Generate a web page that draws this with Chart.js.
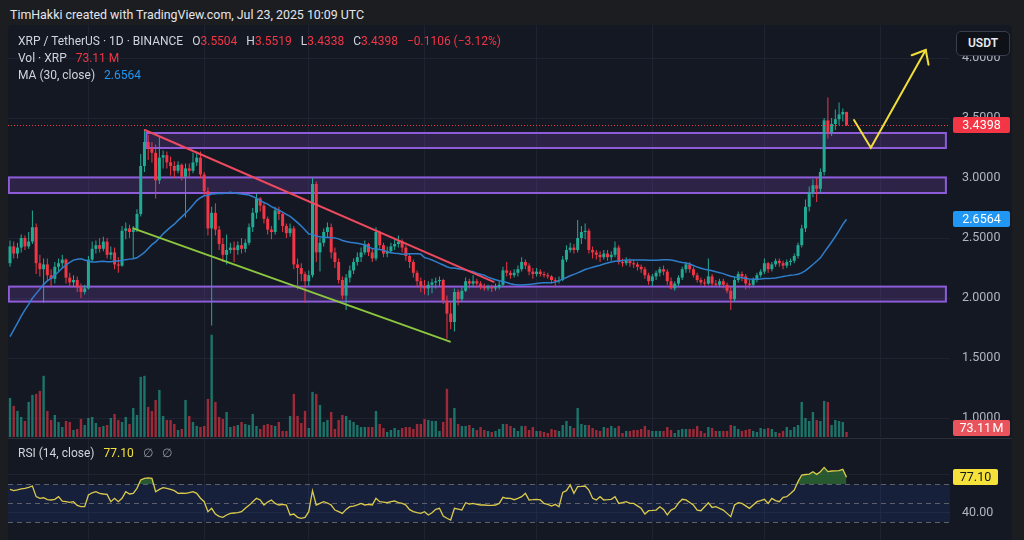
<!DOCTYPE html>
<html>
<head>
<meta charset="utf-8">
<title>XRP / TetherUS 1D</title>
<script src="https://cdn.jsdelivr.net/npm/chart.js@4.4.1/dist/chart.umd.min.js"></script>
<style>
  html, body { margin: 0; padding: 0; }
  body { width: 1024px; height: 540px; overflow: hidden; background: #1c1d21; position: relative;
         font-family: Roboto, "Liberation Sans", Arial, sans-serif; }
  .abs { position: absolute; }
  #panel { left: 8px; top: 25px; width: 1004px; height: 515px; background: #141823; border-radius: 5px 5px 0 0; }
  #hdr { left: 10px; top: 7px; font-size: 12.4px; line-height: 16px; color: #e4e6eb; }
  #mainBox { left: 8px; top: 25px; width: 1004px; height: 412px; }
  #rsiBox { left: 8px; top: 438px; width: 1004px; height: 101px; border-top: 1px solid #2a2e39; }
  .leg { left: 18px; font-size: 12px; line-height: 14px; color: #d1d4dc; white-space: nowrap; }
  .g { margin-left: 9px; }
  .red { color: #f23645; }
  .blue { color: #2196f3; }
  .yel { color: #f5e13a; }
  .mut { color: #9598a1; }
  #usdt { left: 956px; top: 31px; width: 52px; height: 23px; border: 1px solid #3a3e4a; border-radius: 5px;
          background: #0e1118; color: #e8eaef; font-size: 12px; font-weight: 600; text-align: center; line-height: 23px; }
</style>
</head>
<body>
<div id="hdr" class="abs">TimHakki created with TradingView.com, Jul 23, 2025 10:09 UTC</div>
<div id="panel" class="abs"></div>
<div id="mainBox" class="abs"><canvas id="main" width="1004" height="412"></canvas></div>
<div id="rsiBox" class="abs"><canvas id="rsi" width="1004" height="101"></canvas></div>

<div class="leg abs" style="top:34px">XRP / TetherUS · 1D · BINANCE<span class="g">O<span class="red">3.5504</span></span><span class="g">H<span class="red">3.5519</span></span><span class="g">L<span class="red">3.4338</span></span><span class="g">C<span class="red">3.4398</span></span><span class="g red">−0.1106 (−3.12%)</span></div>
<div class="leg abs" style="top:51px">Vol · XRP<span class="g red">73.11 M</span></div>
<div class="leg abs" style="top:68px">MA (30, close)<span class="g blue">2.6564</span></div>
<div class="leg abs" style="top:446px">RSI (14, close)<span class="g yel">77.10</span><span class="g mut">∅</span><span class="g mut">∅</span></div>
<div id="usdt" class="abs">USDT</div>

<script>
// daily candles, index 0 = 11 Dec 2024 ... index 224 = 23 Jul 2025
// closes 11 Nov - 10 Dec 2024, only used to seed the 30 day MA
var closesBefore = [0.72,0.70,0.76,0.86,1.10,1.07,1.12,1.10,1.10,1.35,1.52,1.44,1.43,1.42,1.40,1.47,1.59,1.86,1.96,
  2.39,2.60,2.61,2.42,2.28,2.45,2.45,2.41,2.06,2.29];
var firstOpen = 2.29;

var closes = [
  2.43,2.37,2.42,2.50,2.43,2.47,2.59,2.29,2.24,2.28,2.19,2.16,2.26,2.29,2.32,2.17,2.13,2.15,2.09,2.05,2.08,
  2.32,2.41,2.44,2.41,2.47,2.36,2.38,2.28,2.27,2.56,2.58,2.55,2.57,2.70,3.10,3.30,3.25,3.21,2.98,3.17,3.19,3.13,3.10,3.06,3.11,3.01,3.08,3.06,3.13,3.17,3.03,
  2.89,2.58,2.71,2.57,2.45,2.36,2.40,2.42,2.40,2.44,2.41,2.46,2.59,2.71,2.83,2.77,2.66,2.57,2.55,2.73,2.70,2.60,2.54,2.58,2.28,2.25,2.20,2.14,
  2.19,2.95,2.38,2.46,2.55,2.59,2.38,2.30,2.15,2.02,2.17,2.23,2.30,2.34,2.38,2.45,2.38,2.33,2.55,2.44,2.37,2.39,2.43,2.45,2.47,2.42,2.35,2.30,2.21,2.14,2.10,
  2.08,2.11,2.13,2.14,2.15,1.98,1.87,1.80,2.05,1.99,2.06,2.14,2.12,2.14,2.12,2.10,2.08,2.09,2.08,2.09,2.11,2.23,2.21,2.19,2.21,2.24,2.30,2.27,2.22,2.20,
  2.22,2.20,2.19,2.18,2.15,2.14,2.15,2.32,2.40,2.42,2.40,2.50,2.55,2.56,2.40,2.38,2.36,2.34,2.37,2.34,2.36,2.42,2.30,2.29,2.31,2.29,2.28,2.26,2.24,2.19,2.14,
  2.18,2.21,2.24,2.22,2.14,2.08,2.12,2.17,2.24,2.28,2.24,2.19,2.15,2.13,2.12,2.18,2.12,2.11,2.14,2.11,2.06,1.99,2.15,2.20,2.18,2.12,2.11,2.15,2.19,2.22,
  2.29,2.24,2.28,2.31,2.29,2.27,2.30,2.31,2.35,2.44,2.58,2.76,2.88,2.94,2.91,3.05,3.48,3.38,3.45,3.49,3.53,3.5504,3.4398
];
var highs = [
  2.48,2.47,2.46,2.53,2.52,2.55,2.73,2.62,2.36,2.33,2.33,2.24,2.30,2.33,2.36,2.33,2.21,2.19,2.18,2.12,2.11,
  2.35,2.47,2.48,2.50,2.51,2.50,2.43,2.42,2.34,2.60,2.63,2.61,2.60,2.74,3.20,3.40,3.36,3.30,3.28,3.35,3.23,3.22,3.18,3.14,3.14,3.12,3.12,3.12,3.21,3.22,3.22,
  3.05,2.92,2.76,2.79,2.60,2.50,2.53,2.46,2.47,2.47,2.50,2.49,2.62,2.75,2.87,2.84,2.79,2.68,2.60,2.76,2.76,2.71,2.62,2.62,2.60,2.33,2.29,2.22,
  2.23,3.00,2.97,2.50,2.58,2.63,2.62,2.42,2.33,2.18,2.20,2.27,2.33,2.38,2.42,2.48,2.46,2.41,2.59,2.56,2.46,2.43,2.46,2.49,2.52,2.49,2.44,2.37,2.32,2.23,2.17,
  2.15,2.14,2.16,2.17,2.18,2.16,2.02,1.96,2.08,2.07,2.09,2.17,2.16,2.19,2.16,2.14,2.12,2.11,2.11,2.12,2.14,2.26,2.30,2.23,2.24,2.27,2.34,2.32,2.29,2.25,
  2.25,2.24,2.22,2.21,2.19,2.17,2.18,2.35,2.44,2.46,2.45,2.65,2.60,2.62,2.58,2.43,2.40,2.39,2.40,2.40,2.39,2.47,2.44,2.33,2.34,2.33,2.32,2.30,2.28,2.26,2.21,
  2.20,2.23,2.26,2.27,2.24,2.17,2.14,2.19,2.26,2.30,2.30,2.26,2.21,2.17,2.16,2.33,2.20,2.15,2.16,2.16,2.13,2.09,2.18,2.22,2.22,2.20,2.15,2.17,2.21,2.24,
  2.33,2.30,2.30,2.33,2.33,2.31,2.32,2.33,2.37,2.46,2.61,2.82,2.93,2.99,3.00,3.08,3.50,3.67,3.50,3.57,3.63,3.58,3.5519
];
var lows = [
  2.26,2.33,2.33,2.38,2.40,2.41,2.45,2.20,2.18,1.96,2.14,2.10,2.12,2.22,2.25,2.12,2.09,2.10,2.05,2.00,2.03,
  2.07,2.30,2.37,2.38,2.39,2.33,2.32,2.24,2.21,2.26,2.49,2.50,2.33,2.55,2.68,3.05,3.15,3.13,2.83,2.95,3.08,3.08,3.02,3.00,3.04,2.98,2.67,3.00,3.04,3.10,3.00,
  2.85,2.52,1.77,2.52,2.40,2.30,2.28,2.37,2.30,2.36,2.37,2.38,2.44,2.55,2.66,2.72,2.62,2.53,2.49,2.53,2.65,2.55,2.50,2.51,2.24,2.07,2.14,1.96,
  2.10,2.17,2.30,2.22,2.43,2.50,2.33,2.25,2.12,1.99,1.90,2.13,2.20,2.27,2.30,2.36,2.35,2.30,2.31,2.41,2.34,2.34,2.37,2.40,2.42,2.38,2.31,2.25,2.17,2.09,2.05,
  2.03,2.02,2.04,2.08,2.10,1.95,1.66,1.74,1.72,1.94,1.97,2.05,2.08,2.09,2.09,2.07,2.06,2.06,2.05,2.06,2.07,2.10,2.18,2.16,2.17,2.18,2.22,2.24,2.19,2.16,
  2.18,2.18,2.17,2.16,2.12,2.09,2.12,2.14,2.30,2.38,2.37,2.38,2.45,2.49,2.37,2.33,2.32,2.30,2.32,2.31,2.31,2.34,2.28,2.26,2.27,2.26,2.25,2.23,2.21,2.16,2.11,
  2.10,2.15,2.18,2.19,2.11,2.07,2.06,2.10,2.15,2.21,2.21,2.17,2.13,2.11,2.10,2.11,2.10,2.10,2.09,2.08,2.04,1.90,1.97,2.13,2.14,2.07,2.08,2.09,2.13,2.17,
  2.20,2.21,2.22,2.26,2.26,2.24,2.25,2.27,2.29,2.33,2.42,2.55,2.72,2.84,2.80,2.88,3.02,3.33,3.35,3.40,3.44,3.47,3.4338
];
// volume in millions of XRP
var volumes = [
  569,453,380,292,234,511,613,628,672,891, 380,248,321,219,146,234,219,102,117,263,
  175,277,292,204,146,161,175,277,336,248, 219,292,190,423,321,876,891,438,380,540,
  686,307,248,248,190,102,117,540,307,219, 161,146,161,555,1489,511,292,263,365,146,
  161,175,219,190,175,336,161,117,175,190, 175,161,219,88,88,307,628,307,204,380,
  131,657,628,467,219,248,365,117,248,321, 307,248,219,175,146,146,146,146,380,190,
  131,73,102,131,102,131,146,146,117,190, 190,263,248,234,234,88,219,701,277,423,
  190,161,161,175,131,102,146,102,88,73, 88,117,190,190,161,131,88,161,161,102,
  146,88,88,73,58,117,102,88,175,234, 161,131,423,190,175,175,131,102,88,146,
  131,161,131,161,58,88,88,102,102,117, 161,102,88,88,88,88,146,102,58,102,
  117,117,117,117,161,88,58,146,131,88, 88,88,88,175,161,117,88,102,117,88,
  73,131,117,131,117,73,58,88,146,102, 146,175,511,277,234,365,248,234,526,511,
  175,248,234,219,73.11
];
var rsiValues = [
  64.4,63.0,63.8,64.9,65.4,66.5,67.9,56.7,54.9,55.5, 53.6,53.2,53.9,56.7,52.0,51.4,50.7,51.4,47.5,46.1,
  46.1,58.4,60.8,61.9,60.2,59.5,59.1,51.4,54.9,51.4, 54.9,61.9,59.5,60.2,65.4,74.2,76.0,76.5,76.0,61.9,
  64.4,66.1,65.5,64.4,63.0,60.2,60.5,60.2,61.0,61.9, 60.2,55.0,51.4,40.9,44.4,38.4,36.0,34.9,37.4,39.1,
  39.5,39.8,40.9,44.4,47.5,51.4,54.9,53.2,47.9,51.0, 53.2,49.6,47.9,48.5,47.9,37.4,38.4,34.9,33.9,34.9,
  40.9,63.0,47.9,49.6,51.4,50.0,47.9,42.6,41.0,39.1, 43.3,46.1,46.8,48.0,49.6,47.9,48.5,47.9,54.9,51.4,
  51.0,50.3,51.4,52.1,50.5,49.6,47.9,43.0,40.9,39.8, 39.1,40.9,37.4,39.8,43.3,44.4,36.3,33.9,32.1,44.4,
  43.5,42.6,50.3,48.9,49.6,48.5,47.9,47.9,47.5,47.5, 47.9,49.6,56.0,55.0,54.9,53.5,54.9,56.7,60.2,53.2,
  53.5,53.9,53.2,49.6,48.5,46.8,48.6,46.1,61.2,63.0, 69.0,60.2,67.2,67.5,67.9,63.7,54.9,53.2,56.7,53.2,
  53.5,53.9,56.7,49.6,50.5,51.4,49.6,49.6,47.0,44.4, 38.4,41.9,42.2,42.6,46.1,43.3,37.4,42.6,44.4,50.0,
  53.9,53.2,50.5,47.9,42.6,41.9,46.1,50.3,45.3,46.1, 44.4,42.6,39.1,35.6,47.9,50.3,49.6,47.0,44.4,47.9,
  51.4,52.5,53.9,49.6,54.9,52.5,51.4,56.0,56.7,60.0, 63.7,72.5,79.5,80.0,80.5,83.0,80.2,83.0,87.5,83.0,
  83.7,83.8,84.0,85.4,77.1
];

var monthStarts = [21, 52, 80, 111, 141, 172, 202, 233]; // 1 Jan ... 1 Aug
var priceTicks = [1.0, 1.5, 2.0, 2.5, 3.0, 3.5, 4.0];
var rsiTicks = [40, 80];

// drawings on the chart, in (day index, price)
var zones = [
  { from: 36.5, to: 250.6, top: 3.375, bottom: 3.25 },
  { from: -0.3, to: 250.6, top: 3.005, bottom: 2.875 },
  { from: -0.3, to: 250.6, top: 2.095, bottom: 1.97 }
];
var redTrend = [[36.1, 3.40], [129.5, 2.135]];
var greenTrend = [[33.0, 2.58], [117.8, 1.636]];
var arrowPath = [[226.0, 3.483], [230.5, 3.252], [245.2, 4.067]];

var lastClose = 3.4398, lastMA = 2.6564, lastVol = 73.11, lastRsi = 77.10;

var UP = '#22ab94', DOWN = '#f23645';
var UP_VOL = 'rgba(34,171,148,0.62)', DOWN_VOL = 'rgba(242,54,69,0.62)';
var GRID = '#1f2331';
var FONT = 'Roboto, "Liberation Sans", Arial, sans-serif';

// on a 24h market each daily open is the previous close
var opens = closes.map(function(c, i) { return i === 0 ? firstOpen : closes[i - 1]; });
var allCloses = closesBefore.concat(closes);
var ma30 = closes.map(function(c, i) {
  var end = i + closesBefore.length + 1;
  var win = allCloses.slice(end - 30, end);
  return win.reduce(function(a, b) { return a + b; }, 0) / 30;
});
var candleColors = closes.map(function(c, i) { return c >= opens[i] ? UP : DOWN; });
var volColors = closes.map(function(c, i) { return c >= opens[i] ? UP_VOL : DOWN_VOL; });

Chart.defaults.font.family = FONT;
Chart.defaults.font.size = 12;

var xAxis = {
  type: 'linear', min: -0.535, max: 251.7, offset: false,
  grid: { color: GRID, drawTicks: false, offset: false },
  border: { display: false },
  ticks: { display: false },
  afterBuildTicks: function(s) { s.ticks = monthStarts.map(function(v) { return { value: v }; }); },
  afterFit: function(s) { s.height = 0; s.paddingLeft = 0; s.paddingRight = 0; }
};

// right price axis: fixed width, and no extra label padding above/below the plot
function fitRightAxis(s) { s.width = 62; s.paddingTop = 0; s.paddingBottom = 0; }

function tag(ctx, text, cy, left, width, bg, fg) {
  ctx.fillStyle = bg;
  ctx.beginPath();
  ctx.roundRect(left, Math.round(cy - 8), width, 16, 2);
  ctx.fill();
  ctx.fillStyle = fg;
  ctx.font = '12.5px ' + FONT;
  ctx.textAlign = 'center';
  ctx.textBaseline = 'middle';
  ctx.fillText(text, left + width / 2, Math.round(cy) + 0.5);
}

function line(ctx, pts, x, y, color) {
  ctx.strokeStyle = color;
  ctx.lineWidth = 2;
  ctx.beginPath();
  pts.forEach(function(p, k) {
    var px = x.getPixelForValue(p[0]), py = y.getPixelForValue(p[1]);
    if (k === 0) ctx.moveTo(px, py); else ctx.lineTo(px, py);
  });
  ctx.stroke();
}

var overlays = {
  id: 'overlays',
  beforeDatasetsDraw: function(chart) {
    var ctx = chart.ctx, a = chart.chartArea, x = chart.scales.x, y = chart.scales.y;
    ctx.save();
    ctx.beginPath(); ctx.rect(a.left, a.top, a.width, a.height); ctx.clip();
    zones.forEach(function(z) {
      var l = x.getPixelForValue(z.from), r = x.getPixelForValue(z.to);
      var t = y.getPixelForValue(z.top), b = y.getPixelForValue(z.bottom);
      ctx.fillStyle = 'rgba(120,70,190,0.24)';
      ctx.fillRect(l, t, r - l, b - t);
      ctx.strokeStyle = '#8e5cd9';
      ctx.lineWidth = 2;
      ctx.strokeRect(l, t, r - l, b - t);
    });
    ctx.restore();
  },
  afterDatasetsDraw: function(chart) {
    var ctx = chart.ctx, a = chart.chartArea, x = chart.scales.x, y = chart.scales.y;
    ctx.save();
    // last price line
    var yc = Math.round(y.getPixelForValue(lastClose)) + 0.5;
    ctx.strokeStyle = DOWN;
    ctx.lineWidth = 1;
    ctx.setLineDash([1, 2]);
    ctx.beginPath(); ctx.moveTo(a.left, yc); ctx.lineTo(a.right, yc); ctx.stroke();
    ctx.setLineDash([]);
    ctx.lineCap = 'round';
    line(ctx, redTrend, x, y, '#ee4a5e');
    line(ctx, greenTrend, x, y, '#8cc63f');
    line(ctx, arrowPath, x, y, '#f0dd3a');
    // arrow head
    var p1 = arrowPath[arrowPath.length - 2], p2 = arrowPath[arrowPath.length - 1];
    var x1 = x.getPixelForValue(p1[0]), y1 = y.getPixelForValue(p1[1]);
    var x2 = x.getPixelForValue(p2[0]), y2 = y.getPixelForValue(p2[1]);
    var ang = Math.atan2(y1 - y2, x1 - x2);
    ctx.beginPath();
    ctx.moveTo(x2 + 15 * Math.cos(ang - 0.7), y2 + 15 * Math.sin(ang - 0.7));
    ctx.lineTo(x2, y2);
    ctx.lineTo(x2 + 15 * Math.cos(ang + 0.7), y2 + 15 * Math.sin(ang + 0.7));
    ctx.stroke();
    ctx.restore();
  },
  afterDraw: function(chart) {
    var ctx = chart.ctx, a = chart.chartArea, y = chart.scales.y, yv = chart.scales.yv;
    ctx.save();
    tag(ctx, lastClose.toFixed(4), y.getPixelForValue(lastClose), a.right + 3, 57, DOWN, '#ffffff');
    tag(ctx, lastMA.toFixed(4), y.getPixelForValue(lastMA), a.right + 3, 57, '#2196f3', '#ffffff');
    var vy = Math.min(yv.getPixelForValue(lastVol), a.bottom - 9);
    tag(ctx, lastVol.toFixed(2) + '\u202FM', vy, a.right + 3, 57, '#e9545c', '#ffffff');
    ctx.restore();
  }
};

new Chart(document.getElementById('main'), {
  type: 'bar',
  data: {
    datasets: [
      { type: 'line', data: ma30.map(function(v, i) { return { x: i, y: v }; }),
        borderColor: '#2f7ecb', borderWidth: 1.5, pointRadius: 0, tension: 0, yAxisID: 'y', order: 1 },
      { data: closes.map(function(c, i) { return { x: i, y: [opens[i], c] }; }),
        backgroundColor: candleColors, barThickness: 3, minBarLength: 1, inflateAmount: 0,
        grouped: false, yAxisID: 'y', order: 2 },
      { data: highs.map(function(h, i) { return { x: i, y: [lows[i], h] }; }),
        backgroundColor: candleColors, barThickness: 1, inflateAmount: 0,
        grouped: false, yAxisID: 'y', order: 3 },
      { data: volumes.map(function(v, i) { return { x: i, y: v }; }),
        backgroundColor: volColors, barThickness: 2.4, inflateAmount: 0,
        grouped: false, yAxisID: 'yv', order: 4 }
    ]
  },
  options: {
    responsive: false,
    animation: false,
    events: [],
    layout: { padding: 0 },
    plugins: { legend: { display: false }, tooltip: { enabled: false } },
    scales: {
      x: xAxis,
      y: {
        position: 'right', min: 0.8417, max: 4.275, beginAtZero: false,
        grid: { color: GRID, drawTicks: false },
        border: { display: false },
        ticks: { color: '#b2b5be', font: { size: 12.5 }, padding: 12,
                 callback: function(v) { return Number(v).toFixed(4); } },
        afterBuildTicks: function(s) { s.ticks = priceTicks.map(function(v) { return { value: v }; }); },
        afterFit: fitRightAxis
      },
      yv: { display: false, min: 0, max: 6000 }
    }
  },
  plugins: [overlays]
});

var rsiDecor = {
  id: 'rsiDecor',
  beforeDatasetsDraw: function(chart) {
    var ctx = chart.ctx, a = chart.chartArea, y = chart.scales.y;
    ctx.save();
    var t = y.getPixelForValue(70), b = y.getPixelForValue(30);
    ctx.fillStyle = 'rgba(41,98,255,0.11)';
    ctx.fillRect(a.left, t, a.width, b - t);
    ctx.strokeStyle = '#5d606b';
    ctx.lineWidth = 1;
    ctx.setLineDash([5, 4]);
    [70, 50, 30].forEach(function(v) {
      var py = Math.round(y.getPixelForValue(v)) + 0.5;
      ctx.beginPath(); ctx.moveTo(a.left, py); ctx.lineTo(a.right, py); ctx.stroke();
    });
    ctx.restore();
  },
  afterDraw: function(chart) {
    var ctx = chart.ctx, a = chart.chartArea, y = chart.scales.y;
    ctx.save();
    tag(ctx, lastRsi.toFixed(2), y.getPixelForValue(lastRsi), a.right + 3, 45, '#f7e23b', '#131722');
    ctx.restore();
  }
};

new Chart(document.getElementById('rsi'), {
  type: 'line',
  data: {
    datasets: [{
      data: rsiValues.map(function(v, i) { return { x: i, y: v }; }),
      borderColor: '#dccb4a', borderWidth: 1.3, pointRadius: 0, tension: 0,
      fill: { target: { value: 70 }, above: 'rgba(56,142,60,0.55)', below: 'rgba(0,0,0,0)' }
    }]
  },
  options: {
    responsive: false,
    animation: false,
    events: [],
    layout: { padding: 0 },
    plugins: { legend: { display: false }, tooltip: { enabled: false } },
    scales: {
      x: xAxis,
      y: {
        position: 'right', min: 11.05, max: 117.4,
        grid: { color: GRID, drawTicks: false },
        border: { display: false },
        ticks: { color: '#b2b5be', font: { size: 12.5 }, padding: 12,
                 callback: function(v) { return v === 40 ? '40.00' : ''; } },
        afterBuildTicks: function(s) { s.ticks = rsiTicks.map(function(v) { return { value: v }; }); },
        afterFit: fitRightAxis
      }
    }
  },
  plugins: [rsiDecor]
});
</script>
</body>
</html>
